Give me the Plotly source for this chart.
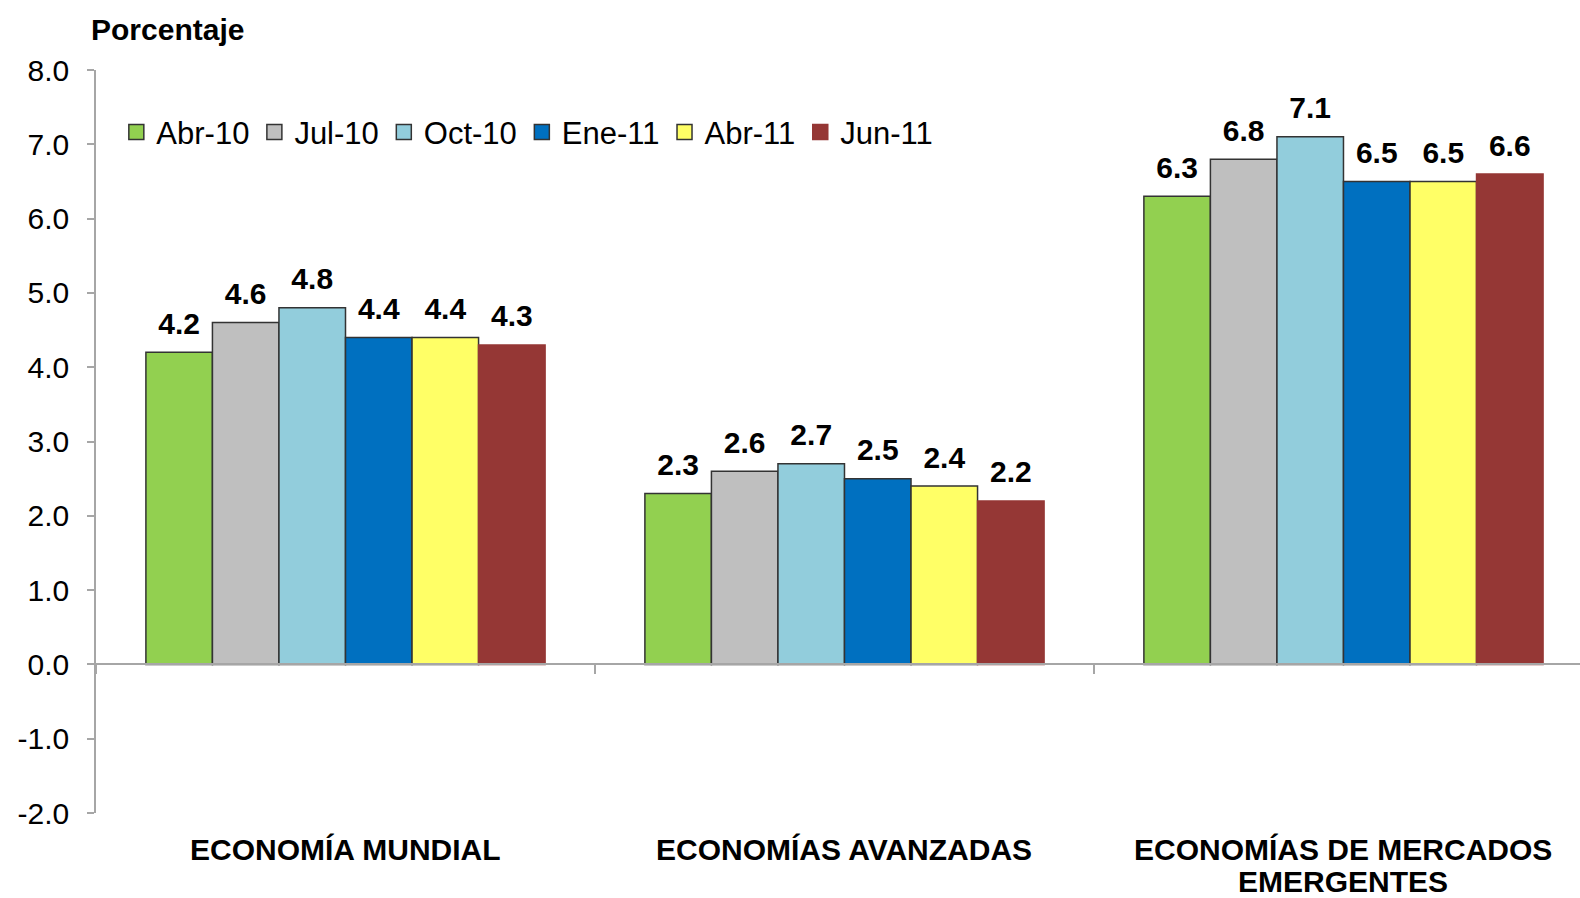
import plotly.graph_objects as go

categories = ["ECONOMÍA MUNDIAL", "ECONOMÍAS AVANZADAS", "ECONOMÍAS DE MERCADOS<br>EMERGENTES"]
series_names = ["Abr-10", "Jul-10", "Oct-10", "Ene-11", "Abr-11", "Jun-11"]
abr10 = [4.2, 2.3, 6.3]
jul10 = [4.6, 2.6, 6.8]
oct10 = [4.8, 2.7, 7.1]
ene11 = [4.4, 2.5, 6.5]
abr11 = [4.4, 2.4, 6.5]
jun11 = [4.3, 2.2, 6.6]
series_values = [abr10, jul10, oct10, ene11, abr11, jun11]
y_ticks = [-2.0, -1.0, 0.0, 1.0, 2.0, 3.0, 4.0, 5.0, 6.0, 7.0, 8.0]
y_tick_labels = [f"{v:.1f}" for v in y_ticks]  # keeps ASCII hyphen for negatives

colors = ["#92D050", "#BFBFBF", "#92CDDC", "#0070C0", "#FFFF66", "#953735"]
edge = ["#333333"] * 5 + ["#953735"]

W, H = 1580, 898
ml, mr, mt, mb = 96, 0, 70, 85
LBL = 30

fig = go.Figure()
for name, vals, c, e in zip(series_names, series_values, colors, edge):
    fig.add_trace(go.Bar(
        x=categories, y=vals, name=name, showlegend=False,
        marker=dict(color=c, line=dict(color=e, width=1.5)),
        offsetgroup=name,
    ))
for name, vals in zip(series_names, series_values):
    fig.add_trace(go.Scatter(
        x=categories, y=vals, mode="markers+text", showlegend=False,
        marker=dict(size=16, opacity=0), offsetgroup=name, hoverinfo="skip",
        text=[f"<b>{v:.1f}</b>" for v in vals], textposition="top center",
        textfont=dict(family="Liberation Sans", size=LBL, color="#000000"),
        cliponaxis=False,
    ))
# legend entries (on a hidden overlay subplot so they do not affect grouping)
for name, c, e in zip(series_names, colors, edge):
    fig.add_trace(go.Scatter(
        x=[None], y=[None], mode="markers", name=name, xaxis="x2", yaxis="y2",
        marker=dict(symbol="square", size=15, color=c, line=dict(color=e, width=1.5)),
    ))

fig.update_layout(
    width=W, height=H,
    margin=dict(l=ml, r=mr, t=mt, b=mb),
    paper_bgcolor="white", plot_bgcolor="white",
    barmode="group", bargap=0.2, bargroupgap=0,
    scattermode="group", scattergap=0.2,
    font=dict(family="Liberation Sans", color="#000000"),
    legend=dict(orientation="h", x=0.0137, y=0.916, xanchor="left", yanchor="middle",
                font=dict(size=31), itemwidth=30, traceorder="normal",
                bgcolor="rgba(0,0,0,0)", tracegroupgap=0),
    xaxis2=dict(visible=False, overlaying="x", range=[0, 1]),
    yaxis2=dict(visible=False, overlaying="y", range=[0, 1]),
)
fig.layout.xaxis.update(
    type="category", range=[-0.5, 2.474], showticklabels=False,
    anchor="free", position=0.2, showline=True, linecolor="#A6A6A6", linewidth=1.5,
    ticks="outside", tickson="boundaries", ticklen=9, tickcolor="#A6A6A6", tickwidth=1.5,
    showgrid=False, zeroline=False, automargin=False,
)
fig.layout.yaxis.update(
    range=[-2, 8], tickvals=y_ticks, ticktext=y_tick_labels,
    showline=True, linecolor="#A6A6A6", linewidth=1.5,
    ticks="outside", ticklen=7, tickcolor="#A6A6A6", tickwidth=1.5,
    showgrid=False, zeroline=False, tickfont=dict(size=30, color="#000000"),
    ticklabelstandoff=12, automargin=False,
)
for cat in categories:
    for k, line in enumerate(cat.split("<br>")):
        fig.add_annotation(x=cat, y=0, xref="x", yref="paper", yanchor="top", xanchor="center",
                           yshift=-18 - 32 * k, text=f"<b>{line}</b>", showarrow=False,
                           font=dict(size=LBL, color="#000000"))
fig.add_annotation(x=0, y=1, xref="paper", yref="paper", xanchor="left", yanchor="bottom",
                   xshift=-7, yshift=22, text="<b>Porcentaje</b>", showarrow=False,
                   font=dict(size=30, color="#000000"))

fig.write_html("out.html", config={"displayModeBar": False},
               post_script="document.body.style.margin='0';document.body.style.overflow='hidden';")
